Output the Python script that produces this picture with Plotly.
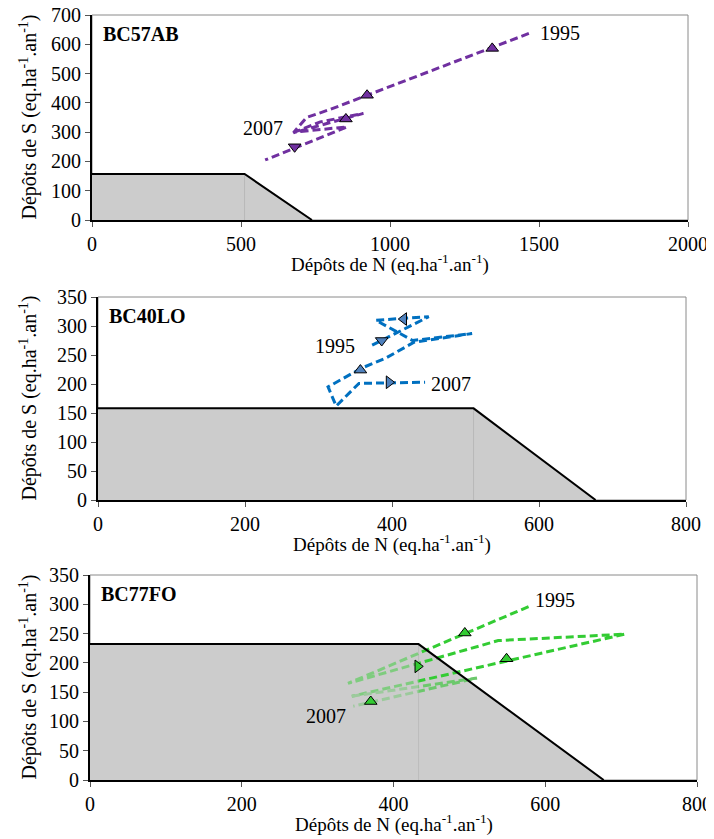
import plotly.graph_objs as go

# page has an 8px body margin: positions below are given in window pixels
# and shifted by OFF; the figure runs past the window on the right/bottom
OFF = 8
W, H = 714, 839

# site names
sites = ['BC57AB', 'BC40LO', 'BC77FO']

# critical load functions: CLmaxS, CLminN, CLmaxN (eq.ha-1.an-1)
cl_maxS = [157, 158, 232]
cl_minN = [512, 511, 433]
cl_maxN = [738, 677, 677]

# N and S deposition trajectories, 1995 -> 2007
n_ab = [1466, 923, 800, 720, 676, 911, 766, 680, 856, 581]
s_ab = [637, 426, 378, 350, 298, 364, 335, 300, 318, 205]
n_lo = [373, 450, 378, 428, 509, 430, 392, 358, 313, 324, 355, 445]
s_lo = [267, 316, 310, 275, 287, 272, 245, 227, 195, 162, 201, 203]
n_fo = [578, 340, 538, 705, 345, 510, 347]
s_fo = [296, 165, 238, 249, 143, 174, 126]

# direction arrows along the trajectories
arr_n_ab = [1343, 923, 852, 680]
arr_s_ab = [586, 426, 345, 250]
arr_sym_ab = ['triangle-up', 'triangle-up', 'triangle-up', 'triangle-down']
arr_n_lo = [386, 416, 357, 396]
arr_s_lo = [275, 312, 224, 203]
arr_sym_lo = ['triangle-down', 'triangle-left', 'triangle-up', 'triangle-right']
arr_n_fo = [494, 432, 549, 370]
arr_s_fo = [251, 194, 207, 134]
arr_sym_fo = ['triangle-up', 'triangle-right', 'triangle-up', 'triangle-up']

# year labels (first / last year)
years = ['1995', '2007']
lab_ab = [(1495, 640, 'left'), (648, 313, 'right')]
lab_lo = [(352, 265, 'right'), (450, 200, 'left')]
lab_fo = [(584, 307, 'left'), (340, 110, 'right')]

x_ranges = [[0, 2000], [0, 800], [0, 800]]
y_ranges = [[0, 700], [0, 350], [0, 350]]
x_dtick = [500, 200, 200]
y_dtick = [100, 50, 50]

line_col = ['#7030A0', '#0070C0', '#33CC33']
mark_col = ['#7030A0', '#4F81BD', '#33CC33']

# plot areas in window pixels (left, right, top, bottom)
boxes = [(92, 688, 15, 220), (98, 686, 297, 500), (90, 697, 575, 780)]

FONT = 'Liberation Serif, Times New Roman, Times, serif'


def px(x, y):
    return (x - OFF) / W, 1 - (y - OFF) / H


fig = go.Figure()
traj = [(n_ab, s_ab), (n_lo, s_lo), (n_fo, s_fo)]
arrows = [(arr_n_ab, arr_s_ab, arr_sym_ab), (arr_n_lo, arr_s_lo, arr_sym_lo), (arr_n_fo, arr_s_fo, arr_sym_fo)]
labels = [lab_ab, lab_lo, lab_fo]
annotations = []
shapes = []
layout = {}

for i in range(3):
    sfx = '' if i == 0 else str(i + 1)
    xa, ya = 'x' + sfx, 'y' + sfx
    poly_x = [0, 0, cl_minN[i], cl_maxN[i], 0]
    poly_y = [0, cl_maxS[i], cl_maxS[i], 0, 0]

    # grey protected area
    fig.add_trace(go.Scatter(x=poly_x, y=poly_y, fill='toself', fillcolor='#CCCCCC',
                             mode='lines', line=dict(width=0), xaxis=xa, yaxis=ya, hoverinfo='skip'))
    # thin divider between the two grey areas
    fig.add_trace(go.Scatter(x=[cl_minN[i], cl_minN[i]], y=[0, cl_maxS[i]], mode='lines',
                             line=dict(color='#B8B8B8', width=1), xaxis=xa, yaxis=ya, hoverinfo='skip'))

    n, s = traj[i]
    if i == 2:
        # later years drawn in a paler green
        fig.add_trace(go.Scatter(x=n[:5], y=s[:5], mode='lines', xaxis=xa, yaxis=ya,
                                 line=dict(color=line_col[i], width=3, dash='8px,4px')))
        fig.add_trace(go.Scatter(x=n[4:], y=s[4:], mode='lines', xaxis=xa, yaxis=ya,
                                 line=dict(color='#6CC86C', width=3, dash='8px,4px')))
        # left grey block sits partly over the lines
        fig.add_trace(go.Scatter(x=[0, 0, cl_minN[i], cl_minN[i], 0], y=[0, cl_maxS[i], cl_maxS[i], 0, 0],
                                 fill='toself', fillcolor='rgba(204,204,204,0.5)', mode='lines',
                                 line=dict(width=0), xaxis=xa, yaxis=ya, hoverinfo='skip'))
    else:
        fig.add_trace(go.Scatter(x=n, y=s, mode='lines', xaxis=xa, yaxis=ya,
                                 line=dict(color=line_col[i], width=3, dash='8px,4px')))

    an, as_, asym = arrows[i]
    fig.add_trace(go.Scatter(x=an, y=as_, mode='markers', xaxis=xa, yaxis=ya,
                             marker=dict(symbol=asym, size=11, color=mark_col[i],
                                         line=dict(color='black', width=1))))

    # black outline of the critical load function
    fig.add_trace(go.Scatter(x=poly_x[1:4], y=poly_y[1:4], mode='lines', xaxis=xa, yaxis=ya,
                             line=dict(color='black', width=2), hoverinfo='skip'))

    l, r, t, b = boxes[i]
    x0, y1 = px(l, t)
    x1, y0 = px(r, b)
    tick_font = dict(family=FONT, size=20, color='black')
    layout['xaxis' + sfx] = dict(domain=[x0, x1], range=x_ranges[i], dtick=x_dtick[i],
                                 anchor=ya, showgrid=False, zeroline=False, showline=True,
                                 linecolor='black', linewidth=2, ticks='outside', ticklen=5,
                                 tickcolor='#555555', tickfont=tick_font, automargin=False,
                                 ticklabeloverflow='allow')
    layout['yaxis' + sfx] = dict(domain=[y0, y1], range=y_ranges[i], dtick=y_dtick[i],
                                 anchor=xa, showgrid=False, zeroline=False, showline=True,
                                 linecolor='black', linewidth=2, ticks='outside', ticklen=5,
                                 tickcolor='#555555', tickfont=tick_font, automargin=False,
                                 ticklabeloverflow='allow')

    # plot area border
    shapes.append(dict(type='rect', xref=xa + ' domain', yref=ya + ' domain', x0=0, x1=1, y0=0, y1=1,
                       line=dict(color='#8A8A8A', width=1), layer='below'))

    # site name
    annotations.append(dict(text='<b>' + sites[i] + '</b>', xref=xa + ' domain', yref=ya + ' domain',
                            x=0.015, y=0.97, xanchor='left', yanchor='top', showarrow=False,
                            font=dict(family=FONT, size=20, color='black')))
    # year labels
    for k, (lx, ly, anc) in enumerate(labels[i]):
        annotations.append(dict(text=years[k], x=lx, y=ly,
                                xref=xa, yref=ya, xanchor=anc, yanchor='middle', showarrow=False,
                                font=dict(family=FONT, size=20, color='black')))

    # axis titles
    cx, cy = px((l + r) / 2, b + 43)
    annotations.append(dict(text='Dépôts de N (eq.ha<sup>-1</sup>.an<sup>-1</sup>)', x=cx, y=cy,
                            xref='paper', yref='paper', xanchor='center', yanchor='middle',
                            showarrow=False, font=dict(family=FONT, size=19, color='black')))
    cx, cy = px(28, (t + b) / 2)
    annotations.append(dict(text='Dépôts de S (eq.ha<sup>-1</sup>.an<sup>-1</sup>)', x=cx, y=cy,
                            xref='paper', yref='paper', xanchor='center', yanchor='middle', textangle=-90,
                            showarrow=False, font=dict(family=FONT, size=20, color='black')))

fig.update_layout(width=W, height=H, margin=dict(l=0, r=0, t=0, b=0), showlegend=False,
                  paper_bgcolor='white', plot_bgcolor='white',
                  annotations=annotations, shapes=shapes, **layout)

fig.write_html('out.html')
